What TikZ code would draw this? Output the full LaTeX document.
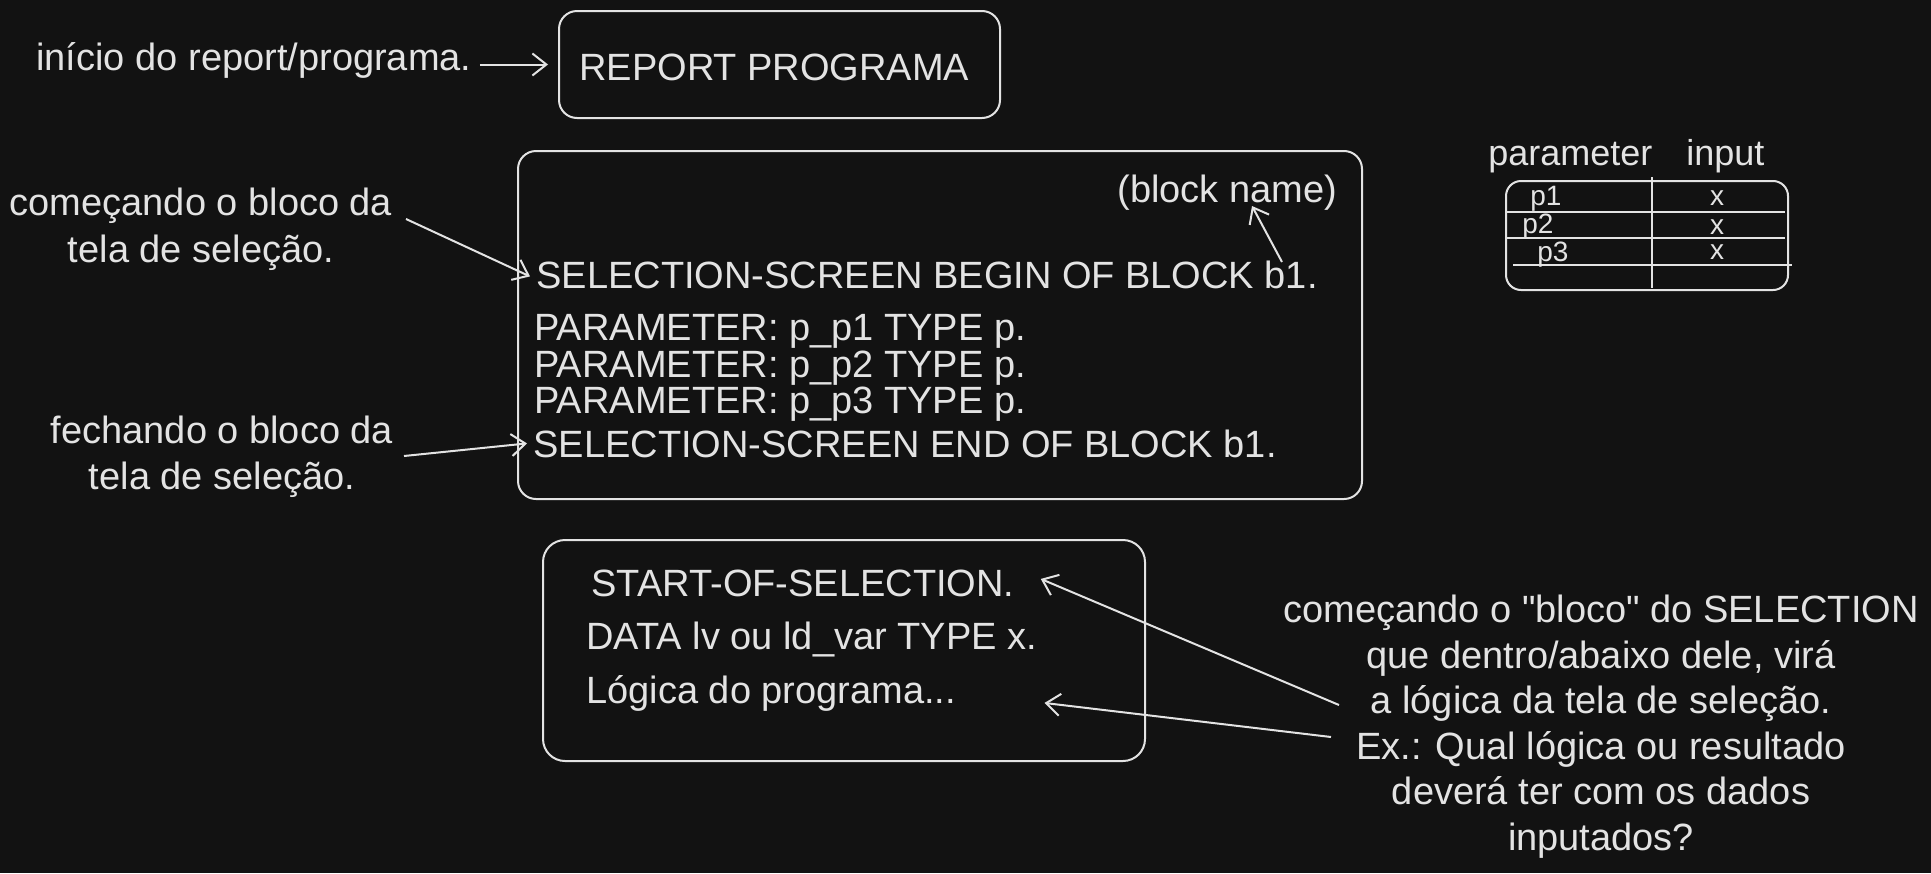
\documentclass[tikz,border=0pt]{standalone}
\usepackage{fontspec}
\setmainfont{Liberation Sans}
\usetikzlibrary{arrows.meta}
\definecolor{bg}{HTML}{121212}
\definecolor{ink}{HTML}{E3E3E3}
\begin{document}
\begin{tikzpicture}[x=0.5pt,y=-0.5pt,
  txt/.style={text=ink, inner sep=0pt, font=\fontsize{19}{23}\selectfont},
  lbl/.style={txt, align=center},
  small/.style={text=ink, inner sep=0pt, font=\fontsize{18}{21}\selectfont},
  tiny/.style={text=ink, inner sep=0pt, font=\fontsize{14}{17}\selectfont},
  box/.style={draw=ink, line width=1pt, rounded corners=9pt, inner sep=0pt},
  arr/.style={draw=ink, line width=1pt, -{Straight Barb[length=7pt,width=11pt]}},
  ln/.style={draw=ink, line width=1pt}]
\fill[bg] (0,0) rectangle (1931,873);
\useasboundingbox (0,0) rectangle (1931,873);

% box 1
\node[box, anchor=north west, minimum width=220.5pt, minimum height=53.5pt] (b1) at (558,10) {};
\node[txt, anchor=base west] (report) at (579,80) {REPORT PROGRAMA};
\node[txt, anchor=base west] (init) at (36,70) {início do report/programa.};
\draw[arr] ([xshift=4pt]init.east |- b1.west) -- ([xshift=-5pt]b1.west);

% box 2
\node[box, anchor=north west, minimum width=422pt, minimum height=174pt] (b2) at (517,150) {};
\node[txt, anchor=base west] (bname) at (1117,202) {(block name)};
\node[txt, anchor=base west] (sbegin) at (536,288) {SELECTION-SCREEN BEGIN OF BLOCK b1.};
\node[txt, anchor=base west] (par1) at (534,340) {PARAMETER: p\_p1 TYPE p.};
\node[txt, anchor=base west] (par2) at (534,377) {PARAMETER: p\_p2 TYPE p.};
\node[txt, anchor=base west] (par3) at (534,413) {PARAMETER: p\_p3 TYPE p.};
\node[txt, anchor=base west] (send) at (533,457) {SELECTION-SCREEN END OF BLOCK b1.};
\coordinate (bnt) at (1282,262);
\draw[arr] (bnt) -- (1252,206);

% left labels (base anchor = last line)
\node[lbl, anchor=base, font=\fontsize{19}{23.5}\selectfont] (lab1) at (201,262) {começando o bloco da\\tela de seleção.};
\node[lbl, anchor=base, font=\fontsize{19}{23}\selectfont] (lab2) at (222,489) {fechando o bloco da\\tela de seleção.};
\coordinate (l1t) at (406,219);
\coordinate (l2t) at (404,456);
\draw[arr] (l1t) -- ([xshift=-3pt,yshift=-1pt]sbegin.west);
\draw[arr] (l2t) -- ([xshift=-3pt]send.west);

% table
\node[small, anchor=base west] (hpar) at (1488,165) {parameter};
\node[small, anchor=base west] (hin) at (1686,165) {input};
\node[draw=ink, line width=1pt, rounded corners=7.5pt, inner sep=0pt, anchor=north west, minimum width=141pt, minimum height=54.5pt] (tbl) at (1505,180) {};
\draw[ln] (1652,177) -- (1652,288);
\draw[ln] (1506,212) -- (1785,212);
\draw[ln] (1506,238) -- (1785,238);
\draw[ln] (1513,265) -- (1792,265);
\node[tiny, anchor=base west] (p1) at (1530,205) {p1};
\node[tiny, anchor=base west] (p2) at (1522,233) {p2};
\node[tiny, anchor=base west] (p3) at (1537,261) {p3};
\node[tiny] (x1) at (1717,198) {x};
\node[tiny] (x2) at (1717,227) {x};
\node[tiny] (x3) at (1717,252) {x};

% box 3
\node[box, anchor=north west, minimum width=301pt, minimum height=110.5pt, rounded corners=11pt] (b3) at (542,539) {};
\node[txt, anchor=base west] (start) at (591,596) {START-OF-SELECTION.};
\node[txt, anchor=base west] (data) at (586,649) {DATA lv ou ld\_var TYPE x.};
\node[txt, anchor=base west] (logica) at (586,703) {Lógica do programa...};

% right label (base anchor = last line)
\node[lbl, anchor=base, font=\fontsize{19}{22.75}\selectfont] (rt) at (1601,850) {começando o \textquotedbl bloco\textquotedbl{} do SELECTION\\que dentro/abaixo dele, virá\\a lógica da tela de seleção.\\Ex.: Qual lógica ou resultado\\deverá ter com os dados\\inputados?};
\coordinate (r1t) at (1339,705);
\coordinate (r2t) at (1331,737);
\draw[arr] (r1t) -- ([xshift=13pt,yshift=2pt]start.east);
\draw[arr] (r2t) -- ([xshift=44pt,yshift=-5pt]logica.east);
\end{tikzpicture}
\end{document}
